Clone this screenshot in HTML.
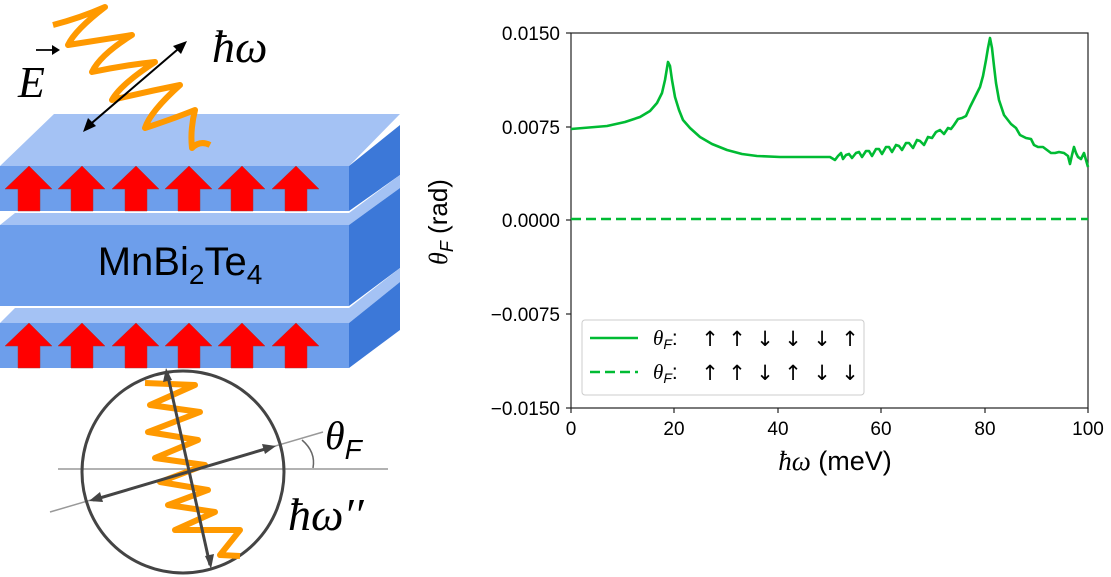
<!DOCTYPE html>
<html><head><meta charset="utf-8"><style>html,body{margin:0;padding:0;background:#fff}svg{display:block}</style></head><body>
<svg width="1111" height="577" viewBox="0 0 1111 577" xmlns="http://www.w3.org/2000/svg" font-family="Liberation Sans, DejaVu Sans, sans-serif">
<!-- slabs -->
<polygon points="0,166 54,114 400,114 349,166" fill="#a4c2f4"/>
<rect x="0" y="166" width="349" height="45" fill="#6d9eeb"/>
<polygon points="349,166 400,125 400,175 349,211" fill="#3c78d8"/>
<polygon points="0,225 15,213 349,213 400,175 400,188 349,225" fill="#a4c2f4"/>
<rect x="0" y="225" width="349" height="81" fill="#6d9eeb"/>
<polygon points="349,225 400,188 400,268 349,306" fill="#3c78d8"/>
<polygon points="0,323 15,308 349,308 400,268 400,282 349,323" fill="#a4c2f4"/>
<rect x="0" y="323" width="349" height="45" fill="#6d9eeb"/>
<polygon points="349,323 400,282 400,330 349,368" fill="#3c78d8"/>
<g fill="#f00" stroke="#a33" stroke-width="0.5">
<g id="ar"><polygon points="5,189 29,166 52,189 40,189 40,211 18,211 18,189"/></g>
<use href="#ar" x="53"/><use href="#ar" x="107"/><use href="#ar" x="160"/><use href="#ar" x="213"/><use href="#ar" x="267"/>
<use href="#ar" y="157"/><use href="#ar" x="53" y="157"/><use href="#ar" x="107" y="157"/><use href="#ar" x="160" y="157"/><use href="#ar" x="213" y="157"/><use href="#ar" x="267" y="157"/>
</g>
<text x="180" y="275" font-size="40" text-anchor="middle">MnBi<tspan font-size="28" dy="9">2</tspan><tspan dy="-9">Te</tspan><tspan font-size="28" dy="9">4</tspan></text>
<!-- incoming wave -->
<path d="M53,25 Q80,18 105,7 Q75,30 68,45 Q100,40 132,35 Q100,55 92,72 Q125,65 155,62 Q120,85 112,100 Q145,92 180,85 Q150,112 145,128 Q170,120 195,110 Q190,130 192,148 Q200,140 210,145" fill="none" stroke="#ff9900" stroke-width="6" stroke-linejoin="round"/>
<line x1="86" y1="128" x2="184" y2="44" stroke="#000" stroke-width="2"/>
<polygon points="187,41 173,46 181,54" fill="#000"/><polygon points="83,132 88,118 96,126" fill="#000"/>
<text x="212" y="62" font-size="46" font-family="Liberation Serif, serif" font-style="italic">ħω</text>
<text x="18" y="97" font-size="44" font-family="Liberation Serif, serif" font-style="italic">E</text>
<line x1="36" y1="50" x2="56" y2="50" stroke="#000" stroke-width="1.8"/><polygon points="60,50 52,45 52,55" fill="#000"/>
<!-- circle -->
<line x1="58" y1="469" x2="388" y2="469" stroke="#999" stroke-width="1.5"/>
<line x1="50" y1="512" x2="323" y2="432" stroke="#999" stroke-width="1.5"/>
<circle cx="183" cy="472" r="101" fill="none" stroke="#444" stroke-width="3"/>
<path d="M145,383 L195,385 L150,405 L200,412 L148,432 L198,440 L155,458 L205,465 L160,482 L208,490 L168,505 L215,512 L175,530 L240,530 L220,555 L240,556" fill="none" stroke="#ff9900" stroke-width="6" stroke-linejoin="round"/>
<line x1="167" y1="372" x2="210" y2="565" stroke="#444" stroke-width="3"/>
<polygon points="166,368 163,382 172,380" fill="#444"/><polygon points="211,569 205,556 214,554" fill="#444"/>
<line x1="93" y1="500" x2="272" y2="447" stroke="#444" stroke-width="3"/>
<polygon points="276,446 262,444 265,454" fill="#444"/><polygon points="89,501 100,492 103,502" fill="#444"/>
<path d="M302,440 Q316,452 313,468" fill="none" stroke="#666" stroke-width="1.5"/>
<text x="325" y="449" font-size="40" font-family="Liberation Serif, serif" font-style="italic">θ<tspan font-size="28" dy="10" font-family="Liberation Sans, sans-serif">F</tspan></text>
<text x="288" y="530" font-size="46" font-family="Liberation Serif, serif" font-style="italic">ħω′′</text>
<!-- chart -->
<rect x="571" y="33" width="517" height="375" fill="none" stroke="#222" stroke-width="1.2"/>
<g stroke="#222" stroke-width="1.2">
<line x1="566" y1="33" x2="571" y2="33"/><line x1="566" y1="127" x2="571" y2="127"/><line x1="566" y1="220" x2="571" y2="220"/><line x1="566" y1="314" x2="571" y2="314"/><line x1="566" y1="408" x2="571" y2="408"/>
<line x1="571" y1="408" x2="571" y2="413"/><line x1="674" y1="408" x2="674" y2="413"/><line x1="778" y1="408" x2="778" y2="413"/><line x1="881" y1="408" x2="881" y2="413"/><line x1="985" y1="408" x2="985" y2="413"/><line x1="1088" y1="408" x2="1088" y2="413"/>
</g>
<g font-size="19" text-anchor="end">
<text x="560" y="40">0.0150</text><text x="560" y="134">0.0075</text><text x="560" y="227">0.0000</text><text x="560" y="321">−0.0075</text><text x="560" y="415">−0.0150</text>
</g>
<g font-size="19" text-anchor="middle">
<text x="571" y="435">0</text><text x="674" y="435">20</text><text x="778" y="435">40</text><text x="881" y="435">60</text><text x="985" y="435">80</text><text x="1088" y="435">100</text>
</g>
<text x="835" y="470" font-size="27" text-anchor="middle"><tspan font-family="Liberation Serif, serif" font-style="italic">ħω</tspan> (meV)</text>
<text transform="translate(447,222) rotate(-90)" font-size="26" text-anchor="middle"><tspan font-family="Liberation Serif, serif" font-style="italic">θ</tspan><tspan font-size="18" dy="6" font-style="italic">F</tspan><tspan dy="-6"> (rad)</tspan></text>
<path d="M571,129 L607,126 L625,122 L640,117 L650,111 L657,103 L662,93 L665,80 L668,62 L670,66 L672,80 L675,97 L679,110 L683,120 L690,128 L700,137 L712,144 L727,150 L742,154 L757,156 L780,157 L807,157 L830,157 L835,160 L838,156 L841,153 L843,159 L846,155 L849,154 L852,158 L856,153 L859,152 L862,157 L866,151 L869,151 L872,156 L876,149 L879,149 L882,154 L886,147 L889,147 L892,152 L896,145 L899,146 L902,150 L906,143 L909,143 L913,148 L917,140 L920,141 L924,145 L928,137 L932,138 L936,132 L940,130 L944,134 L948,128 L951,129 L954,125 L958,119 L962,118 L966,116 L970,107 L975,97 L980,87 L983,76 L986,60 L988,48 L990,38 L992,48 L994,66 L996,83 L999,100 L1004,115 L1011,124 L1016,128 L1020,135 L1026,138 L1031,139 L1034,145 L1038,147 L1043,147 L1047,150 L1051,153 L1055,153 L1059,152 L1064,153 L1068,156 L1070,164 L1072,155 L1074,147 L1076,153 L1078,157 L1081,159 L1084,153 L1086,160 L1088,167" fill="none" stroke="#00bb33" stroke-width="2.6" stroke-linejoin="round"/>
<line x1="571" y1="219" x2="1088" y2="219" stroke="#00bb33" stroke-width="2.6" stroke-dasharray="10,5"/>
<rect x="582" y="320" width="282" height="75" rx="3" fill="#fff" stroke="#ccc" stroke-width="1"/>
<line x1="590" y1="338" x2="638" y2="338" stroke="#00bb33" stroke-width="2.6"/>
<line x1="590" y1="372" x2="638" y2="372" stroke="#00bb33" stroke-width="2.6" stroke-dasharray="10,5"/>
<g font-size="21">
<text x="653" y="345"><tspan font-style="italic" font-family="Liberation Serif, serif">θ</tspan><tspan font-size="14" dy="4" font-style="italic">F</tspan><tspan dy="-4">:</tspan></text>
<text x="653" y="379"><tspan font-style="italic" font-family="Liberation Serif, serif">θ</tspan><tspan font-size="14" dy="4" font-style="italic">F</tspan><tspan dy="-4">:</tspan></text>
</g>
<g font-size="21" text-anchor="middle" font-family="DejaVu Sans, sans-serif">
<text x="710" y="346">↑</text><text x="737" y="346">↑</text><text x="765" y="346">↓</text><text x="793" y="346">↓</text><text x="822" y="346">↓</text><text x="850" y="346">↑</text>
<text x="710" y="380">↑</text><text x="737" y="380">↑</text><text x="765" y="380">↓</text><text x="793" y="380">↑</text><text x="822" y="380">↓</text><text x="850" y="380">↓</text>
</g>
</svg>
</body></html>
